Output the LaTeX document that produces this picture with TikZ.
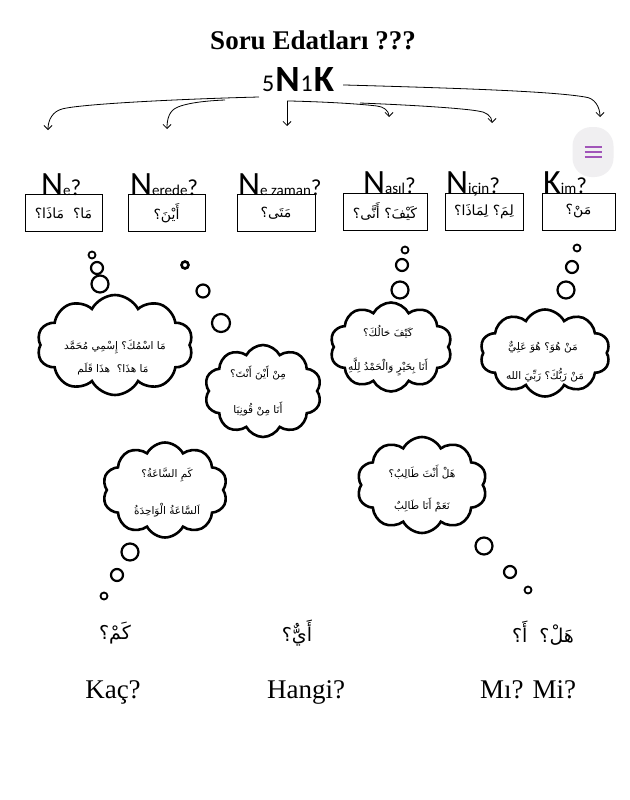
\documentclass[tikz,border=0pt]{standalone}
\usepackage{fontspec}
\setmainfont{Liberation Serif}
\newfontfamily\calfont{Carlito}
\newfontfamily\arfont[Script=Arabic]{DejaVu Sans}
\TeXXeTstate=1
\usetikzlibrary{shapes.symbols,arrows.meta}
\definecolor{menupurple}{HTML}{A155B9}
\definecolor{menugray}{HTML}{F0EFF1}
\newcommand\artext[1]{\beginR #1\endR}
\newcommand\lblN{\fontsize{34}{34}\selectfont}
\newcommand\lbls{\fontsize{15}{15}\selectfont}
\newcommand\lblq{\fontsize{23}{23}\selectfont}
\begin{document}
\begin{tikzpicture}[x=1pt,y=-1pt,
  lbl/.style={anchor=base west, inner sep=0pt, font=\calfont},
  abox/.style={draw, line width=0.8pt, inner sep=0pt, font=\fontsize{14}{16}\arfont},
  cloudsty/.style={cloud, cloud puffs=10, cloud puff arc=125, cloud ignores aspect, draw, line width=2.6pt, inner sep=0pt},
  bub/.style={circle, draw, line width=2.2pt, inner sep=0pt},
  cltxt/.style={font=\fontsize{10.5}{12}\arfont, inner sep=0pt},
  bottomar/.style={font=\fontsize{19}{22}\arfont, inner sep=0pt},
  bottomtr/.style={font=\fontsize{27}{30}\selectfont, anchor=base, inner sep=0pt},
  arr/.style={line width=0.8pt, -{Straight Barb[length=4pt,width=8pt]}}]
\useasboundingbox (0,0) rectangle (629,800);
\fill[white] (0,0) rectangle (629,800);

% title
\node[anchor=base, inner sep=0pt, font=\fontsize{27}{30}\selectfont\bfseries] (title) at (313,50) {Soru Edatları ???};
\node[anchor=base west, inner sep=0pt, font=\calfont] (k5) at (262,92)
  {{\fontsize{24}{24}\selectfont 5}\kern1pt{\fontsize{37}{37}\selectfont\bfseries N}\kern1pt{\fontsize{24}{24}\selectfont 1}\kern1pt{\fontsize{37}{37}\selectfont\bfseries K}};

% arrow coordinates
\coordinate (s1) at (259,97);
\coordinate (s2) at (225,100);
\coordinate (s3) at (287,101);
\coordinate (s4) at (360,103);
\coordinate (s5) at (343,85);
\coordinate (a1) at (48,130);
\coordinate (a2) at (167,129);
\coordinate (a3) at (287,126);
\coordinate (a4) at (389,117);
\coordinate (a5) at (492,123);
\coordinate (a6) at (600,117);

\draw[arr] (s1) .. controls (180,99) and (80,104) .. (62,109) to[out=195,in=90] (a1);
\draw[arr] (s2) .. controls (200,101) and (185,104) .. (178,107) to[out=200,in=90] (a2);
\draw[arr] (s3) -- (a3);
\draw[arr] (s3) -- (290,101) .. controls (330,102) and (360,104) .. (377,106) to[out=-5,in=90] (a4);
\draw[arr] (s4) .. controls (410,105) and (460,108) .. (478,111) to[out=-5,in=90] (a5);
\draw[arr] (s5) -- (345,85) .. controls (450,88) and (550,91) .. (585,97) to[out=-5,in=90] (a6);

% menu icon
\node[fill=menugray, rounded corners=19pt, minimum width=41pt, minimum height=50pt, inner sep=0pt] (menu) at (593,152) {};
\draw[menupurple, line width=1.6pt] ([xshift=-8.5pt,yshift=5pt]menu.center) -- ([xshift=8.5pt,yshift=5pt]menu.center)
  ([xshift=-8.5pt]menu.center) -- ([xshift=8.5pt]menu.center)
  ([xshift=-8.5pt,yshift=-5pt]menu.center) -- ([xshift=8.5pt,yshift=-5pt]menu.center);

% boxes
\node[abox, minimum width=77pt, minimum height=37pt] (b1) at (63.5,213) {\artext{مَا؟\ \ مَاذَا؟}};
\node[abox, minimum width=77pt, minimum height=37pt] (b2) at (166.5,213) {\artext{أَيْنَ؟}};
\node[abox, minimum width=78pt, minimum height=37pt] (b3) at (276,213) {\artext{مَتَى؟}};
\node[abox, minimum width=84pt, minimum height=37pt] (b4) at (385,211.5) {\artext{كَيْفَ؟ أَنَّى؟}};
\node[abox, minimum width=78pt, minimum height=37pt] (b5) at (484,211.5) {\artext{لِمَ؟\ لِمَاذَا؟}};
\node[abox, minimum width=73pt, minimum height=37pt] (b6) at (578.5,211.5) {\artext{مَنْ؟}};

% labels
\node[lbl] (l1) at (41,195) {\lblN N\lbls e\lblq ?};
\node[lbl] (l2) at (130,195) {\lblN N\lbls erede\lblq ?};
\node[lbl] (l3) at (238,195) {\lblN N\lbls e zaman\lblq ?};
\node[lbl] (l4) at (363,193) {\lblN N\lbls asıl\lblq ?};
\node[lbl] (l5) at (446,193) {\lblN N\lbls için\lblq ?};
\node[lbl] (l6) at (543,193) {\lblN K\lbls im\lblq ?};

% cloud A
\node[bub, minimum size=7pt, line width=1.8pt] (ca1) at (92,255) {};
\node[bub, minimum size=12pt] (ca2) at (97,268) {};
\node[bub, minimum size=17pt] (ca3) at (100,284) {};
\node[cloudsty, minimum width=156pt, minimum height=100pt] (ca) at (115,345) {};
\node[cltxt] (cat1) at (115,347) {\artext{مَا اسْمُكَ؟ إِسْمِي مُحَمَّد}};
\node[cltxt] (cat2) at (113,369) {\artext{مَا هذَا؟\ \ هذَا قَلَم}};

% cloud B
\node[bub, minimum size=7pt, line width=2.6pt] (cb1) at (185,265) {};
\node[bub, minimum size=13pt] (cb2) at (203,291) {};
\node[bub, minimum size=18pt] (cb3) at (221,323) {};
\node[cloudsty, minimum width=117pt, minimum height=92pt] (cb) at (263,391) {};
\node[cltxt] (cbt1) at (258,373) {\artext{مِنْ أَيْنَ أَنْتَ؟}};
\node[cltxt] (cbt2) at (258,409) {\artext{أَنَا مِنْ قُونِيَا}};

% cloud C
\node[bub, minimum size=7pt, line width=1.8pt] (cc1) at (405,250) {};
\node[bub, minimum size=12pt] (cc2) at (402,265) {};
\node[bub, minimum size=17pt] (cc3) at (400,290) {};
\node[cloudsty, minimum width=122pt, minimum height=89pt] (cc) at (391,347) {};
\node[cltxt] (cct1) at (388,332) {\artext{كَيْفَ حَالُكَ؟}};
\node[cltxt] (cct2) at (388,367) {\artext{أَنَا بِخَيْرٍ وَالْحَمْدُ لِلَّهِ}};

% cloud D
\node[bub, minimum size=7pt, line width=1.8pt] (cd1) at (577,248) {};
\node[bub, minimum size=12pt] (cd2) at (572,267) {};
\node[bub, minimum size=17pt] (cd3) at (566,290) {};
\node[cloudsty, minimum width=130pt, minimum height=87pt] (cd) at (545,353) {};
\node[cltxt] (cdt1) at (543,347) {\artext{مَنْ هُوَ؟ هُوَ عَلِيٌّ}};
\node[cltxt] (cdt2) at (545,375) {\artext{مَنْ رَبُّكَ؟ رَبِّيَ الله}};

% cloud E
\node[cloudsty, minimum width=125pt, minimum height=95pt] (ce) at (165,490) {};
\node[cltxt] (cet1) at (167,475) {\artext{كَمِ السَّاعَةُ؟}};
\node[cltxt] (cet2) at (167,510) {\artext{اَلسَّاعَةُ الْوَاحِدَةُ}};
\node[bub, minimum size=17pt] (ce3) at (130,552) {};
\node[bub, minimum size=12pt] (ce2) at (117,575) {};
\node[bub, minimum size=7pt, line width=1.8pt] (ce1) at (104,596) {};

% cloud F
\node[cloudsty, minimum width=130pt, minimum height=96pt] (cf) at (422,485) {};
\node[cltxt] (cft1) at (422,472) {\artext{هَلْ أَنْتَ طَالِبٌ؟}};
\node[cltxt] (cft2) at (422,505) {\artext{نَعَمْ أَنَا طَالِبٌ}};
\node[bub, minimum size=17pt] (cf3) at (484,546) {};
\node[bub, minimum size=12pt] (cf2) at (510,572) {};
\node[bub, minimum size=7pt, line width=1.8pt] (cf1) at (528,590) {};

% bottom
\node[bottomar] (ar1) at (115,633) {\artext{كَمْ؟}};
\node[bottomar] (ar2) at (297,633) {\artext{أَيٌّ؟}};
\node[bottomar] (ar3) at (543,633) {\artext{هَلْ؟\ \ أَ؟}};
\node[bottomtr] (tr1) at (113,698) {Kaç?};
\node[bottomtr] (tr2) at (306,698) {Hangi?};
\node[bottomtr] (tr3) at (528,698) {Mı? Mi?};
\end{tikzpicture}
\end{document}
